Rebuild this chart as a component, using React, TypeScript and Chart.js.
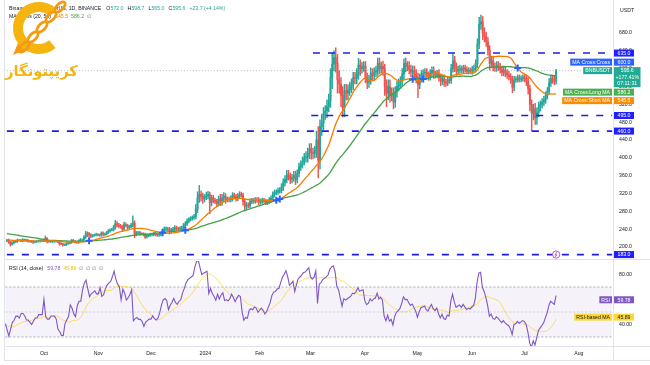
import { useEffect, useRef } from "react";
import { Chart, registerables } from "chart.js";

Chart.register(...registerables);

// ---------------- data ----------------
const firstDay = "2023-09-09"; // first visible daily bar
const axisEndDay = "2024-08-20"; // right edge of the time axis

// Jul 12 – Sep 8, 2023 (only used to warm up the moving averages / RSI)
const warmupCloses = [
  239, 253, 247, 246, 244, 243, 242, 244, 245, 246, 245, 246, 240, 241, 243, 243, 245, 246, 245, 244,
  246, 243, 244, 243, 243, 244, 243, 245, 245, 243, 243, 244, 243, 243, 237, 230, 216, 218, 219, 219,
  215, 213, 219, 215, 216, 216, 217, 218, 225, 219, 214,
  214, 215, 216, 214, 215, 216, 217, 214,
];

// daily closes, Sep 9, 2023 – Jul 19, 2024
const closes = [
  // Sep
  215, 211, 206, 209, 212, 213, 215, 215, 214, 216, 216, 215, 213, 213, 212, 211, 212, 213, 213, 214, 214, 214,
  // Oct
  219, 213, 212, 212, 213, 213, 213, 212, 208, 207, 205, 205, 208, 209, 210, 214, 213, 211, 210, 214,
  216, 216, 222, 227, 230, 227, 224, 226, 227, 228, 227,
  // Nov
  227, 231, 228, 229, 233, 236, 238, 239, 244, 252, 249, 247, 246, 240, 250, 248, 244, 246, 249, 254,
  229, 231, 232, 230, 230, 228, 223, 226, 227, 228,
  // Dec
  228, 230, 228, 227, 228, 231, 236, 240, 241, 240, 235, 238, 240, 243, 241, 240, 242, 243, 248, 252,
  258, 262, 264, 266, 268, 285, 310, 318, 313, 308, 312,
  // Jan
  315, 318, 300, 310, 305, 302, 298, 308, 303, 310, 314, 306, 307, 306, 309, 316, 313, 309, 314, 318,
  317, 302, 291, 294, 293, 302, 304, 303, 306, 305, 301,
  // Feb
  303, 305, 303, 300, 302, 306, 310, 318, 322, 323, 326, 327, 335, 345, 352, 362, 358, 352, 355, 360,
  352, 365, 380, 385, 392, 400, 402, 410, 420,
  // Mar
  412, 410, 416, 440, 395, 470, 478, 498, 505, 515, 528, 580, 610, 625, 612, 575, 565, 540, 512, 550,
  545, 552, 558, 565, 580, 578, 588, 608, 600, 604, 606,
  // Apr
  580, 570, 575, 590, 585, 592, 595, 612, 600, 605, 600, 560, 545, 560, 540, 545, 525, 548, 560, 565,
  572, 588, 612, 605, 606, 598, 592, 596, 588, 580,
  // May
  565, 578, 588, 590, 592, 585, 582, 590, 596, 588, 585, 590, 580, 572, 578, 570, 568, 575, 573, 600,
  618, 605, 595, 598, 600, 596, 602, 598, 594, 596, 595,
  // Jun
  598, 600, 612, 655, 700, 705, 680, 672, 660, 642, 612, 618, 605, 602, 608, 604, 598, 592, 596, 590,
  586, 583, 575, 558, 575, 576, 580, 576, 578, 580,
  // Jul
  578, 572, 555, 520, 500, 510, 490, 502, 515, 520, 525, 530, 540, 550, 568, 578, 575, 572, 595.6,
];

// wick length above max(open, close)
const upperWicks = [
  2, 3, 2, 3, 2, 2, 3, 2, 2, 3, 2, 2, 2, 2, 2, 3, 2, 2, 2, 2, 3, 4,
  6, 2, 2, 2, 2, 2, 2, 2, 2, 2, 2, 2, 2, 2, 2, 3, 3, 2, 2, 2, 3, 2, 3, 8, 4, 3, 3, 2, 2, 3, 2,
  2, 3, 3, 2, 2, 3, 3, 3, 5, 8, 5, 4, 4, 3, 6, 4, 3, 3, 4, 16, 5, 4, 3, 3, 2, 2, 3, 3, 2, 3,
  3, 3, 3, 2, 3, 3, 5, 5, 4, 3, 4, 4, 4, 5, 4, 3, 4, 4, 5, 5, 5, 4, 4, 4, 5, 10, 14, 20, 8, 8, 6,
  8, 7, 5, 6, 6, 5, 5, 6, 10, 8, 8, 6, 5, 5, 6, 6, 5, 5, 6, 6, 5, 4, 5, 6, 5, 6, 5, 5, 5, 5, 6,
  5, 5, 4, 4, 4, 5, 5, 6, 6, 5, 6, 6, 7, 8, 8, 10, 10, 8, 8, 10, 10, 8, 8, 8, 10, 10, 12, 12, 12,
  12, 10, 10, 20, 30, 15, 20, 15, 12, 15, 15, 20, 25, 15, 22, 20, 20, 15, 20, 15, 15, 12, 12, 12, 12, 12, 12, 15, 12, 10, 10,
  10, 10, 10, 12, 10, 10, 10, 12, 12, 10, 12, 10, 15, 15, 15, 12, 12, 12, 12, 12, 10, 12, 10, 12, 10, 10, 10, 10, 10, 10,
  10, 10, 8, 8, 8, 8, 8, 8, 8, 8, 6, 6, 8, 8, 8, 8, 6, 6, 6, 10, 15, 10, 8, 8, 8, 6, 6, 6, 6, 6, 6,
  8, 8, 8, 12, 15, 15, 12, 12, 10, 10, 10, 10, 10, 8, 8, 8, 8, 8, 10, 8, 8, 8, 6, 8, 8, 6, 6, 6, 6, 6,
  8, 8, 8, 8, 10, 10, 12, 10, 10, 8, 8, 8, 8, 8, 10, 8, 8, 8, 3.1,
];

// wick length below min(open, close)
const lowerWicks = [
  2, 3, 4, 2, 2, 2, 3, 2, 2, 2, 2, 3, 2, 2, 2, 3, 2, 2, 2, 2, 2, 2,
  2, 4, 2, 2, 2, 2, 2, 2, 4, 2, 3, 2, 2, 2, 2, 2, 2, 2, 2, 2, 2, 2, 3, 3, 4, 4, 3, 2, 2, 2, 2,
  3, 3, 3, 2, 2, 3, 3, 2, 3, 4, 4, 4, 4, 5, 3, 3, 5, 3, 3, 4, 8, 4, 3, 3, 2, 3, 4, 3, 3, 3,
  3, 3, 3, 3, 3, 3, 3, 4, 4, 4, 6, 4, 4, 4, 4, 3, 4, 4, 4, 4, 4, 4, 4, 4, 4, 5, 8, 10, 10, 10, 7,
  6, 7, 25, 8, 6, 5, 6, 6, 10, 10, 8, 8, 5, 5, 5, 6, 5, 6, 5, 5, 5, 8, 10, 6, 5, 5, 5, 5, 5, 5, 6,
  5, 5, 4, 5, 5, 5, 5, 5, 6, 5, 5, 5, 6, 8, 8, 8, 8, 10, 8, 8, 12, 8, 8, 8, 8, 8, 10, 12, 12,
  15, 12, 10, 15, 40, 20, 20, 15, 12, 15, 12, 15, 25, 15, 20, 30, 20, 25, 20, 20, 15, 15, 12, 12, 12, 12, 12, 12, 15, 10, 10,
  12, 15, 12, 10, 12, 10, 10, 10, 12, 10, 15, 20, 30, 15, 15, 12, 15, 12, 12, 10, 10, 10, 12, 12, 10, 10, 10, 10, 10, 12,
  30, 10, 8, 8, 8, 8, 8, 8, 8, 10, 6, 6, 8, 10, 8, 10, 8, 6, 6, 6, 8, 12, 10, 8, 8, 6, 6, 6, 6, 6, 6,
  8, 8, 8, 10, 10, 12, 15, 12, 10, 12, 15, 10, 10, 8, 8, 8, 8, 8, 8, 8, 8, 8, 8, 12, 8, 6, 6, 6, 6, 6,
  8, 10, 12, 15, 40, 15, 15, 15, 10, 10, 8, 8, 8, 8, 8, 8, 8, 8, 7,
];

const priceTicks = [200, 240, 280, 320, 360, 400, 440, 480, 520, 560, 600, 640, 680];
const rsiTicks = [40, 60, 80];
const monthTickDates = [
  "2023-10-01", "2023-11-01", "2023-12-01", "2024-01-01", "2024-02-01", "2024-03-01",
  "2024-04-01", "2024-05-01", "2024-06-01", "2024-07-01", "2024-08-01",
];
const monthTickLabels = ["Oct", "Nov", "Dec", "2024", "Feb", "Mar", "Apr", "May", "Jun", "Jul", "Aug"];

const levelValues = [635, 495, 460, 183];
const levelStartDays = ["2024-03-02", "2024-03-01", "2023-09-09", "2023-09-09"];

const lastPrice = 595.6;
const priceChangeText = "+23.7 (+4.14%)";
const rangeChangeText = "+177.41%";
const countdownText = "07:11:31";
const crossLast = 600.0;
const longMaLast = 586.2;
const shortMaLast = 545.5;
const rsiLast = 59.78;
const rsiMaLast = 45.89;
const rsiBands = [70, 50, 30];

const maShortLen = 20;
const maLongLen = 50;
const rsiLen = 14;
const rsiMaLen = 14;

// ---------------- layout (pixel anchors of the two value axes) ----------------
const PRICE_H = 260;
const RSI_H = 105;
const priceAnchor = { hiV: 680, hiY: 33, loV: 200, loY: 247 };
const rsiAnchor = { hiV: 80, hiY: 14.5, loV: 40, loY: 64.5 };

// ---------------- helpers ----------------
const FONT = '"Liberation Sans", Arial, sans-serif';
const TXT = "#131722";
const UP = "#26a69a";
const DOWN = "#ef5350";
const LEVEL_LINE = "#1e1ee0";
const LEVEL_BOX = "#1f1fff";
const ORANGE = "#f57c00";
const GREEN = "#43a047";
const PURPLE = "#7e57c2";
const YELLOW = "#fdd835";
const FRAME = "#e0e3eb";

function utc(iso: string) {
  const [y, m, d] = iso.split("-").map(Number);
  return Date.UTC(y, m - 1, d);
}
function dayIndex(iso: string) {
  return Math.round((utc(iso) - utc(firstDay)) / 86400000);
}
const nCats = dayIndex(axisEndDay) + 1;
const labels = Array.from({ length: nCats }, (_, i) =>
  new Date(utc(firstDay) + i * 86400000).toISOString().slice(0, 10)
);

function sma(arr: (number | null)[], n: number) {
  return arr.map((_, i) => {
    if (i < n - 1) return null;
    let s = 0;
    for (let k = i - n + 1; k <= i; k++) {
      const v = arr[k];
      if (v == null) return null;
      s += v;
    }
    return s / n;
  });
}
function rsiCalc(arr: number[], n: number) {
  const out: (number | null)[] = arr.map(() => null);
  let g = 0, l = 0;
  for (let i = 1; i <= n; i++) {
    const d = arr[i] - arr[i - 1];
    if (d > 0) g += d; else l -= d;
  }
  g /= n; l /= n;
  out[n] = l === 0 ? 100 : 100 - 100 / (1 + g / l);
  for (let i = n + 1; i < arr.length; i++) {
    const d = arr[i] - arr[i - 1];
    g = (g * (n - 1) + Math.max(d, 0)) / n;
    l = (l * (n - 1) + Math.max(-d, 0)) / n;
    out[i] = l === 0 ? 100 : 100 - 100 / (1 + g / l);
  }
  return out;
}

const allCloses = [...warmupCloses, ...closes];
const W = warmupCloses.length;
const maShortAll = sma(allCloses, maShortLen);
const maLongAll = sma(allCloses, maLongLen);
const rsiAll = rsiCalc(allCloses, rsiLen);
const rsiMaAll = sma(rsiAll, rsiMaLen);

function visible(arr: (number | null)[]) {
  const v = arr.slice(W);
  while (v.length < nCats) v.push(null);
  return v;
}

const opens = closes.map((_, i) => (i === 0 ? warmupCloses[W - 1] : closes[i - 1]));
const highs = closes.map((c, i) => Math.max(c, opens[i]) + (upperWicks[i] ?? 0));
const lows = closes.map((c, i) => Math.min(c, opens[i]) - (lowerWicks[i] ?? 0));
const candleColors = closes.map((c, i) => (c >= opens[i] ? UP : DOWN));
const bodyData = labels.map((_, i) => (i < closes.length ? [opens[i], closes[i]] : null));
const wickData = labels.map((_, i) => (i < closes.length ? [lows[i], highs[i]] : null));

const crossData: (number | null)[] = labels.map(() => null);
for (let i = W + 1; i < allCloses.length; i++) {
  const a0 = maShortAll[i - 1], b0 = maLongAll[i - 1], a1 = maShortAll[i], b1 = maLongAll[i];
  if (a0 == null || b0 == null || a1 == null || b1 == null) continue;
  if ((a0 - b0) * (a1 - b1) < 0 || (a1 === b1 && a0 !== b0)) crossData[i - W] = a1;
}

const lastIdx = closes.length - 1;
const ohlcText = [
  ["O", opens[lastIdx]],
  ["H", highs[lastIdx]],
  ["L", lows[lastIdx]],
  ["C", closes[lastIdx]],
] as [string, number][];

// ---------------- drawing helpers ----------------
function font(ctx: CanvasRenderingContext2D, size = 5.2, weight = "normal") {
  ctx.font = `${weight} ${size}px ${FONT}`;
}
function segments(ctx: CanvasRenderingContext2D, x: number, y: number, segs: [string, string, number?][]) {
  ctx.textAlign = "left";
  ctx.textBaseline = "middle";
  for (const [t, c, gap] of segs) {
    ctx.fillStyle = c;
    ctx.fillText(t, x, y);
    x += ctx.measureText(t).width + (gap ?? 2.5);
  }
}
function tag(ctx: CanvasRenderingContext2D, x: number, cy: number, text: string, bg: string, fg: string, align: "left" | "right", fixedW?: number) {
  font(ctx);
  const w = fixedW ?? ctx.measureText(text).width + 4;
  const left = align === "left" ? x : x - w;
  ctx.fillStyle = bg;
  ctx.fillRect(left, cy - 3.5, w, 7);
  ctx.fillStyle = fg;
  ctx.textAlign = "center";
  ctx.textBaseline = "middle";
  ctx.fillText(text, left + w / 2, cy + 0.3);
}
function hline(ctx: CanvasRenderingContext2D, x1: number, x2: number, y: number) {
  ctx.beginPath(); ctx.moveTo(x1, y); ctx.lineTo(x2, y); ctx.stroke();
}
function vline(ctx: CanvasRenderingContext2D, x: number, y1: number, y2: number) {
  ctx.beginPath(); ctx.moveTo(x, y1); ctx.lineTo(x, y2); ctx.stroke();
}

function drawLogo(ctx: CanvasRenderingContext2D) {
  ctx.save();
  const gold = "#f6b40e";
  // big C
  ctx.strokeStyle = gold;
  ctx.lineWidth = 10;
  ctx.lineCap = "butt";
  ctx.beginPath();
  ctx.arc(39, 28, 21, Math.PI * 0.28, Math.PI * 1.72);
  ctx.stroke();
  // chain links
  ctx.lineWidth = 2.8;
  ctx.strokeStyle = "#f39c12";
  const links = [[60, 7], [51, 17], [42, 27], [33, 37], [24, 47]];
  for (const [lx, ly] of links) {
    ctx.save();
    ctx.translate(lx, ly);
    ctx.rotate(-Math.PI / 4);
    ctx.beginPath();
    ctx.ellipse(0, 0, 6.5, 3.2, 0, 0, Math.PI * 2);
    ctx.stroke();
    ctx.restore();
  }
  ctx.fillStyle = "#f39c12";
  ctx.beginPath();
  ctx.moveTo(13, 55); ctx.lineTo(25, 50); ctx.lineTo(18, 43); ctx.closePath();
  ctx.fill();
  // persian wordmark
  const word = "کریپتونگار";
  ctx.font = `bold 16px "DejaVu Sans", sans-serif`;
  const w = ctx.measureText(word).width;
  const size = (16 * 73) / w;
  ctx.font = `bold ${size}px "DejaVu Sans", sans-serif`;
  ctx.fillStyle = gold;
  ctx.textAlign = "left";
  ctx.textBaseline = "middle";
  ctx.fillText(word, 5, 72);
  ctx.restore();
}

const AXIS_X = 613;
const AXIS_W = 650 - AXIS_X;

const priceOverlay = {
  id: "priceOverlay",
  afterDraw(chart: any) {
    const { ctx, scales } = chart;
    const y = scales.y;
    const x = scales.x;
    ctx.save();
    // frame
    ctx.strokeStyle = FRAME; ctx.lineWidth = 1;
    vline(ctx, AXIS_X + 0.5, 0, PRICE_H);
    vline(ctx, 4.5, 0, PRICE_H);
    hline(ctx, 4, 650, PRICE_H - 0.5);

    // event marker
    const ex = x.getPixelForValue(lastIdx), ey = y.getPixelForValue(183);
    ctx.fillStyle = "#fff"; ctx.strokeStyle = "#ab47bc"; ctx.lineWidth = 0.9;
    ctx.beginPath(); ctx.arc(ex, ey, 3.6, 0, Math.PI * 2); ctx.fill(); ctx.stroke();
    ctx.beginPath(); ctx.moveTo(ex + 0.8, ey - 2.4); ctx.lineTo(ex - 1.2, ey + 0.4); ctx.lineTo(ex + 0.6, ey + 0.2); ctx.lineTo(ex - 0.8, ey + 2.4);
    ctx.stroke();

    // legend
    font(ctx);
    const segs1: [string, string, number?][] = [["Binance Coin / TetherUS, 1D, BINANCE", TXT, 5]];
    for (const [k, v] of ohlcText) {
      segs1.push([k, TXT, 0.2]);
      segs1.push([v.toFixed(1), UP, 4]);
    }
    segs1.push([priceChangeText, UP, 0]);
    segments(ctx, 9, 8.5, segs1);
    segments(ctx, 9, 16.5, [
      [`MA Cross (${maShortLen}, ${maLongLen})`, TXT, 4],
      [shortMaLast.toFixed(1), ORANGE, 3],
      [longMaLast.toFixed(1), GREEN, 3],
      ["∅", "#787b86", 0],
    ]);

    drawLogo(ctx);

    // axis header
    font(ctx);
    ctx.fillStyle = TXT; ctx.textAlign = "left"; ctx.textBaseline = "middle";
    ctx.fillText("USDT", AXIS_X + 7, 10.5);

    // labels with simple collision handling around the price label
    const gap = 1.5;
    const priceY = y.getPixelForValue(lastPrice);
    const priceTop = priceY - 3.5, priceBottom = priceTop + 20;
    type L = { v: number; text: string; bg: string; fg: string; name?: string; cy?: number };
    const above: L[] = [
      { v: crossLast, text: crossLast.toFixed(1), bg: "#2962ff", fg: "#fff", name: "MA Cross:Cross" },
      ...levelValues.filter((v) => v > lastPrice).map((v) => ({ v, text: v.toFixed(1), bg: LEVEL_BOX, fg: "#fff" })),
    ].sort((a, b) => a.v - b.v);
    const below: L[] = [
      { v: longMaLast, text: longMaLast.toFixed(1), bg: "#4caf50", fg: "#fff", name: "MA Cross:Long MA" },
      { v: shortMaLast, text: shortMaLast.toFixed(1), bg: "#fb8c00", fg: "#fff", name: "MA Cross:Short MA" },
      ...levelValues.filter((v) => v < lastPrice).map((v) => ({ v, text: v.toFixed(1), bg: LEVEL_BOX, fg: "#fff" })),
    ].sort((a, b) => b.v - a.v);
    let limit = priceTop - gap;
    for (const l of above) {
      l.cy = Math.min(y.getPixelForValue(l.v), limit - 3.5);
      limit = l.cy - 3.5 - gap;
    }
    limit = priceBottom + gap;
    for (const l of below) {
      l.cy = Math.max(y.getPixelForValue(l.v), limit + 3.5);
      limit = l.cy + 3.5 + gap;
    }
    for (const l of [...above, ...below]) {
      tag(ctx, AXIS_X + 1, l.cy!, l.text, l.bg, l.fg, "left", 20);
      if (l.name) tag(ctx, AXIS_X - 1, l.cy!, l.name, l.bg, l.fg, "right");
    }
    // last price label (3 lines)
    font(ctx);
    const priceLines = [lastPrice.toFixed(1), rangeChangeText, countdownText];
    const pw = Math.max(20, ...priceLines.map((t) => ctx.measureText(t).width + 3));
    ctx.fillStyle = "#22ab94";
    ctx.fillRect(AXIS_X + 1, priceTop, pw, 20);
    ctx.fillStyle = "#fff"; ctx.textAlign = "center"; ctx.textBaseline = "middle";
    priceLines.forEach((t, k) => ctx.fillText(t, AXIS_X + 1 + pw / 2, priceY + 0.3 + k * 6.5));
    tag(ctx, AXIS_X - 1, priceY, "BNBUSDT", "#22ab94", "#fff", "right");
    ctx.restore();
  },
};

const rsiOverlay = {
  id: "rsiOverlay",
  afterDraw(chart: any) {
    const { ctx, scales, chartArea } = chart;
    const y = scales.y;
    ctx.save();
    ctx.strokeStyle = FRAME; ctx.lineWidth = 1;
    vline(ctx, AXIS_X + 0.5, 0, 100);
    vline(ctx, 4.5, 0, 100);
    hline(ctx, 4, 650, chartArea.bottom + 0.5);
    hline(ctx, 4, 650, 100.5);

    font(ctx);
    segments(ctx, 9, 8.5, [
      [`RSI (${rsiLen}, close)`, TXT, 4],
      [rsiLast.toFixed(2), PURPLE, 3],
      [rsiMaLast.toFixed(2), "#e6c200", 3],
      ["∅", "#787b86", 2.5],
      ["∅", "#787b86", 2.5],
      ["∅", "#787b86", 2.5],
      ["∅", "#787b86", 0],
    ]);

    const cy1 = y.getPixelForValue(rsiLast);
    const cy2 = y.getPixelForValue(rsiMaLast);
    tag(ctx, AXIS_X + 1, cy1, rsiLast.toFixed(2), PURPLE, "#fff", "left", 20);
    tag(ctx, AXIS_X - 1, cy1, "RSI", PURPLE, "#fff", "right");
    tag(ctx, AXIS_X + 1, cy2, rsiMaLast.toFixed(2), YELLOW, TXT, "left", 20);
    tag(ctx, AXIS_X - 1, cy2, "RSI-based MA", YELLOW, TXT, "right");
    ctx.restore();
  },
};

function yAxisCommon(ticks: number[], digits: number) {
  return {
    position: "right" as const,
    afterFit(s: any) {
      s.width = AXIS_W;
      s.paddingTop = 0;
      s.paddingBottom = 0;
    },
    afterBuildTicks(s: any) {
      s.ticks = ticks.map((v) => ({ value: v }));
    },
    grid: { display: false, drawTicks: false },
    border: { display: false },
    ticks: {
      font: { size: 5.2, family: FONT },
      color: TXT,
      padding: 6,
      crossAlign: "near" as const,
      callback: (v: any) => Number(v).toFixed(digits),
    },
  };
}

// after the first layout, set the value range so the anchor values sit on their pixel rows
function fitRange(chart: any, a: { hiV: number; hiY: number; loV: number; loY: number }) {
  const ca = chart.chartArea;
  const ppu = (a.loY - a.hiY) / (a.hiV - a.loV);
  chart.options.scales.y.max = a.hiV + (a.hiY - ca.top) / ppu;
  chart.options.scales.y.min = a.loV - (ca.bottom - a.loY) / ppu;
  chart.update();
}

export default function App() {
  const priceRef = useRef<HTMLCanvasElement>(null);
  const rsiRef = useRef<HTMLCanvasElement>(null);

  useEffect(() => {
    const levelSets = levelValues.map((v, k) => {
      const start = dayIndex(levelStartDays[k]);
      return {
        type: "line" as const,
        data: labels.map((_, i) => (i >= start ? v : null)),
        borderColor: LEVEL_LINE,
        borderWidth: 1.6,
        borderDash: [7, 8],
        pointRadius: 0,
        clip: false,
        order: 2,
      };
    });

    const priceChart = new Chart(priceRef.current!, {
      type: "bar",
      data: {
        labels,
        datasets: [
          {
            type: "line",
            data: crossData,
            showLine: false,
            pointStyle: "cross",
            pointRadius: 3.5,
            pointBorderWidth: 2,
            pointBorderColor: "#2962ff",
            pointBackgroundColor: "#2962ff",
            order: 0,
          } as any,
          { type: "line", data: visible(maShortAll), borderColor: ORANGE, borderWidth: 1.3, pointRadius: 0, order: 1 } as any,
          { type: "line", data: visible(maLongAll), borderColor: GREEN, borderWidth: 1.3, pointRadius: 0, order: 1 } as any,
          ...levelSets,
          {
            type: "line",
            data: labels.map(() => lastPrice),
            borderColor: "#a0a3ab",
            borderWidth: 0.8,
            borderDash: [1, 2],
            pointRadius: 0,
            order: 5,
          } as any,
          { type: "bar", data: wickData, backgroundColor: candleColors, barThickness: 0.8, grouped: false, order: 3 } as any,
          { type: "bar", data: bodyData, backgroundColor: candleColors, barThickness: 1.3, grouped: false, order: 3 } as any,
        ],
      },
      options: {
        animation: false,
        responsive: false,
        maintainAspectRatio: false,
        events: [],
        layout: { padding: { left: 4.5, top: 2, bottom: 1, right: 0 } },
        plugins: { legend: { display: false }, tooltip: { enabled: false } },
        scales: {
          x: { display: false, offset: true },
          y: { ...yAxisCommon(priceTicks, 1), min: 173, max: 750 } as any,
        },
      },
      plugins: [priceOverlay],
    });
    fitRange(priceChart, priceAnchor);

    const rsiChart = new Chart(rsiRef.current!, {
      type: "line",
      data: {
        labels,
        datasets: [
          { data: visible(rsiAll), borderColor: PURPLE, borderWidth: 1.1, pointRadius: 0, order: 0 },
          { data: visible(rsiMaAll), borderColor: "rgba(253,216,53,0.85)", borderWidth: 0.9, pointRadius: 0, order: 1 },
          {
            data: labels.map(() => rsiBands[0]),
            borderColor: "#9598a1",
            borderWidth: 0.8,
            borderDash: [2, 2],
            pointRadius: 0,
            fill: "+2",
            backgroundColor: "rgba(126,87,194,0.08)",
            order: 2,
          },
          {
            data: labels.map(() => rsiBands[1]),
            borderColor: "rgba(149,152,161,0.55)",
            borderWidth: 0.8,
            borderDash: [2, 2],
            pointRadius: 0,
            order: 2,
          },
          {
            data: labels.map(() => rsiBands[2]),
            borderColor: "#9598a1",
            borderWidth: 0.8,
            borderDash: [2, 2],
            pointRadius: 0,
            order: 2,
          },
        ] as any,
      },
      options: {
        animation: false,
        responsive: false,
        maintainAspectRatio: false,
        events: [],
        layout: { padding: { left: 4.5, top: 1, bottom: 0, right: 0 } },
        plugins: { legend: { display: false }, tooltip: { enabled: false } },
        scales: {
          x: {
            offset: true,
            afterFit(s: any) {
              s.height = 19;
              s.paddingLeft = 0;
              s.paddingRight = 0;
            },
            afterBuildTicks(s: any) {
              s.ticks = monthTickDates.map((d) => ({ value: dayIndex(d) }));
            },
            grid: { display: false, drawTicks: false },
            border: { display: false },
            ticks: {
              autoSkip: false,
              maxRotation: 0,
              minRotation: 0,
              padding: 4,
              font: { size: 5.2, family: FONT },
              color: TXT,
              callback: (_v: any, i: number) => monthTickLabels[i],
            },
          },
          y: { ...yAxisCommon(rsiTicks, 2), min: 22.8, max: 90.8 } as any,
        },
      },
      plugins: [rsiOverlay],
    });
    fitRange(rsiChart, rsiAnchor);

    return () => {
      priceChart.destroy();
      rsiChart.destroy();
    };
  }, []);

  return (
    <div style={{ position: "absolute", left: 0, top: 0, width: 650, height: 365, background: "#fff", overflow: "hidden" }}>
      <canvas ref={priceRef} width={650} height={PRICE_H} style={{ position: "absolute", left: 0, top: 0, width: 650, height: PRICE_H }} />
      <canvas ref={rsiRef} width={650} height={RSI_H} style={{ position: "absolute", left: 0, top: PRICE_H, width: 650, height: RSI_H }} />
    </div>
  );
}
